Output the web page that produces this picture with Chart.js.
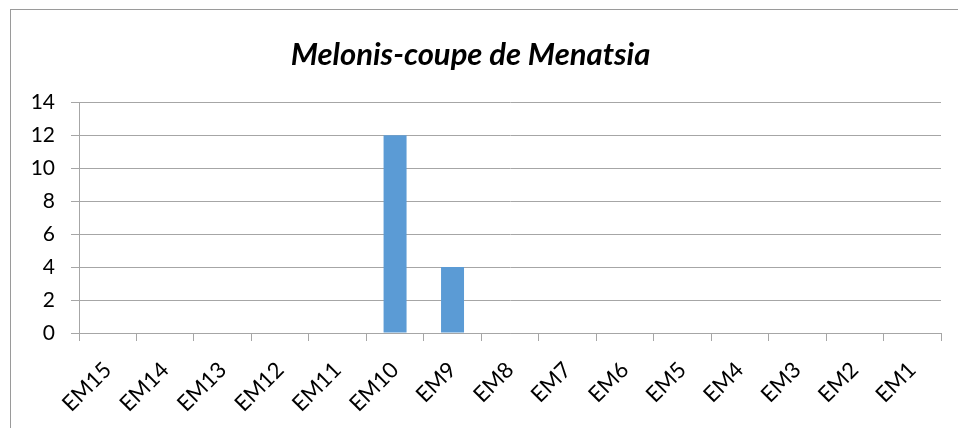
<!DOCTYPE html>
<html>
<head>
<meta charset="utf-8">
<script src="https://cdn.jsdelivr.net/npm/chart.js@4"></script>
<style>
  html, body { margin: 0; padding: 0; background: #fff; overflow: hidden; }
  #wrap { position: relative; width: 958px; height: 428px; }
  #frame { position: absolute; left: 10px; top: 9px; width: 1000px; height: 500px; border: 1px solid #9a9a9a; box-sizing: border-box; }
  canvas { position: absolute; left: 0; top: 0; }
</style>
</head>
<body>
<div id="wrap">
  <div id="frame"></div>
  <canvas id="chart" width="958" height="428"></canvas>
</div>
<script>
// Podaci sa grafikona
const categories = ['EM15', 'EM14', 'EM13', 'EM12', 'EM11', 'EM10', 'EM9', 'EM8', 'EM7', 'EM6', 'EM5', 'EM4', 'EM3', 'EM2', 'EM1'];
const counts = [0, 0, 0, 0, 0, 12, 4, 0, 0, 0, 0, 0, 0, 0, 0];
const yTicks = [0, 2, 4, 6, 8, 10, 12, 14];

const gridColor = '#a6a6a6';
const fontFamily = 'Lato, "Open Sans", sans-serif';

const ctx = document.getElementById('chart').getContext('2d');
new Chart(ctx, {
    type: 'bar',
    data: {
        labels: categories,
        datasets: [{
            label: 'Melonis-coupe de Menatsia',
            data: counts,
            backgroundColor: '#5b9bd5',
            borderWidth: 0,
            barPercentage: 0.4,
            categoryPercentage: 1.0
        }]
    },
    options: {
        responsive: false,
        animation: false,
        layout: { padding: { left: 0, right: 17, top: 0, bottom: 0 } },
        plugins: {
            legend: { display: false },
            tooltip: { enabled: false },
            title: {
                display: true,
                text: 'Melonis-coupe de Menatsia',
                color: '#000',
                font: { family: fontFamily, size: 31, weight: 'bold', style: 'italic', lineHeight: 1.2 },
                padding: { top: 36, bottom: 29 }
            }
        },
        scales: {
            x: {
                grid: {
                    display: true,
                    drawOnChartArea: false,
                    drawTicks: true,
                    tickLength: 8,
                    color: gridColor,
                    offset: true
                },
                border: { display: true, color: gridColor },
                ticks: {
                    color: '#000',
                    font: { family: fontFamily, size: 22 },
                    minRotation: 45,
                    maxRotation: 45,
                    autoSkip: false,
                    padding: 16
                },
                afterFit: scale => { scale.height = 95; }
            },
            y: {
                min: 0,
                max: 14,
                afterBuildTicks: scale => { scale.ticks = yTicks.map(v => ({ value: v })); },
                grid: {
                    color: gridColor,
                    tickLength: 8,
                    drawTicks: true
                },
                border: { display: true, color: gridColor },
                ticks: {
                    color: '#000',
                    font: { family: fontFamily, size: 21 },
                    padding: 16
                },
                afterFit: scale => { scale.width = 79; }
            }
        }
    }
});
</script>
</body>
</html>
